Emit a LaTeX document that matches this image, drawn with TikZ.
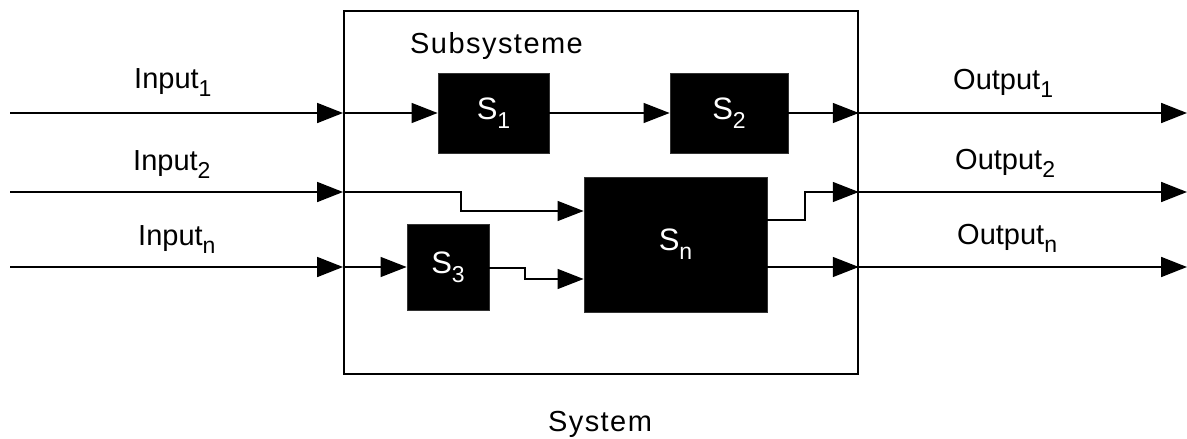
\documentclass[tikz,border=0pt]{standalone}
\usepackage{fontspec}
\setmainfont{Liberation Sans}
\newfontfamily\widesans[LetterSpace=5]{Liberation Sans}
\usetikzlibrary{arrows.meta}
\newcommand{\lowidx}[1]{\raisebox{-0.3em}{\fontsize{23}{23}\selectfont #1}}
\begin{document}
\begin{tikzpicture}[x=1pt,y=-1pt,
  lbl/.style={font=\fontsize{29}{32}\selectfont, inner sep=0pt, anchor=base west},
  title/.style={font=\fontsize{29}{32}\selectfont\widesans, inner sep=0pt},
  blk/.style={fill=black, draw=black!80, line width=0.8pt, inner sep=0pt,
    text=white, font=\fontsize{31}{32}\selectfont},
  ext/.style={line width=1.8pt, -{Triangle[length=26pt,width=20pt]}},
  wire/.style={line width=1.3pt, -{Triangle[length=26pt,width=20pt]}},
]
\useasboundingbox (0,0) rectangle (1187,439);

% system frame
\node[draw, line width=1.8pt, minimum width=514pt, minimum height=363pt,
  inner sep=0pt, anchor=north west] (sys) at (343,10) {};

% subsystem blocks
\node[blk, minimum width=111pt, minimum height=80pt] (s1) at (493.5,113) {S\lowidx{1}};
\node[blk, minimum width=118pt, minimum height=80pt] (s2) at (729,113) {S\lowidx{2}};
\node[blk, minimum width=183pt, minimum height=135pt] (sn) at (675.5,244.5) {S\lowidx{n}};
\node[blk, minimum width=82pt, minimum height=86pt] (s3) at (448,267) {S\lowidx{3}};

% free ends of the outer signals
\coordinate (i1) at (10,113);
\coordinate (i2) at (10,192);
\coordinate (i3) at (10,267);
\coordinate (o1) at (1187,113);
\coordinate (o2) at (1187,192);
\coordinate (o3) at (1187,267);

% inputs
\draw[ext] (i1) -- (sys.west |- i1);
\draw[ext] (i2) -- (sys.west |- i2);
\draw[ext] (i3) -- (sys.west |- i3);

% outputs
\draw[ext] (sys.east |- o1) -- (o1);
\draw[ext] (sys.east |- o2) -- (o2);
\draw[ext] (sys.east |- o3) -- (o3);

% internal wiring
\draw[wire] (sys.west |- i1) -- (s1.west |- i1);
\draw[wire] (s1.east |- i1) -- (s2.west |- i1);
\draw[wire] (s2.east |- o1) -- (sys.east |- o1);
\draw[wire] (sys.west |- i2) -- (461,192) -- (461,211) -- (sn.west |- 0,211);
\draw[wire] (sys.west |- i3) -- (s3.west |- i3);
\draw[wire] (s3.east |- 0,268) -- (525,268) -- (525,279) -- (sn.west |- 0,279);
\draw[wire] (sn.east |- 0,220) -- (805,220) -- (805,192) -- (sys.east |- o2);
\draw[wire] (sn.east |- o3) -- (sys.east |- o3);

% labels
\node[lbl] (li1) at (134,88) {Input\lowidx{1}};
\node[lbl] (li2) at (133,170) {Input\lowidx{2}};
\node[lbl] (li3) at (138,245) {Input\lowidx{n}};
\node[lbl] (lo1) at (953,89) {Output\lowidx{1}};
\node[lbl] (lo2) at (955,169) {Output\lowidx{2}};
\node[lbl] (lo3) at (957,244) {Output\lowidx{n}};
\node[title, anchor=base west] (lsub) at (410,53) {Subsysteme};
\node[title, anchor=base] (lsys) at (600,431) {System};
\end{tikzpicture}
\end{document}
